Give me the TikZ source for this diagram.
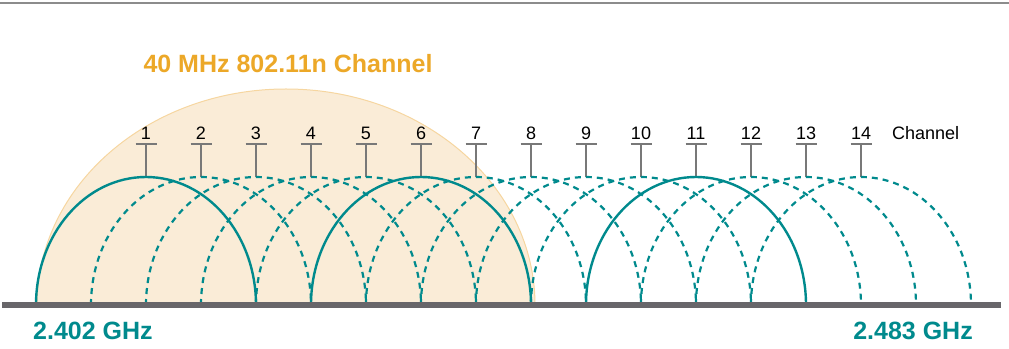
\documentclass[tikz,border=0pt]{standalone}
\usepackage{fontspec}
\setmainfont{Liberation Sans}
\definecolor{teal2}{RGB}{0,138,141}
\definecolor{orfill}{RGB}{250,236,215}
\definecolor{oredge}{RGB}{246,214,160}
\definecolor{ortext}{RGB}{236,168,40}
\definecolor{gbar}{RGB}{104,102,106}
\definecolor{gtick}{RGB}{120,120,120}
\tikzset{
  solidarc/.style={draw=teal2, line width=2.4pt},
  dasharc/.style={draw=teal2, line width=2.2pt, dash pattern=on 6pt off 5pt},
  tickline/.style={draw=gtick, line width=1.1pt},
  chlabel/.style={font=\fontsize{18}{18}\selectfont, text=black, inner sep=0pt, anchor=base},
  freqlabel/.style={font=\fontsize{25}{25}\selectfont\bfseries, text=teal2, inner sep=0pt},
}
\begin{document}
\begin{tikzpicture}[x=1pt,y=1pt]
\useasboundingbox (0,0) rectangle (1009,348);
% top rule
\draw[draw=gray!90, line width=1.2pt] (0,345) -- (1009,345);
% 40 MHz region
\fill[orfill] (37,43) arc[start angle=180, end angle=0, x radius=249, y radius=216] -- cycle;
\draw[oredge, line width=1pt] (37,43) arc[start angle=180, end angle=0, x radius=249, y radius=216];
\node[font=\fontsize{25}{25}\selectfont\bfseries, text=ortext, inner sep=0pt, anchor=base] (title) at (288,275) {40 MHz 802.11n Channel};
% channels
\foreach \n in {1,...,14}{
  \pgfmathsetmacro{\cx}{146+55*(\n-1)}
  \coordinate (top\n) at (\cx,171);
  \coordinate (cap\n) at (\cx,204);
  \node[chlabel] (lab\n) at (\cx,208) {\n};
  \draw[tickline] (top\n) -- (cap\n);
  \draw[tickline] ([xshift=-10.5pt]cap\n) -- ([xshift=10.5pt]cap\n);
}
\foreach \n in {2,3,4,5,7,8,9,10,12,13,14}{
  \pgfmathsetmacro{\cx}{146+55*(\n-1)}
  \draw[dasharc] (\cx-110,43) arc[start angle=180, end angle=0, x radius=110, y radius=128];
}
\foreach \n in {1,6,11}{
  \pgfmathsetmacro{\cx}{146+55*(\n-1)}
  \draw[solidarc] (\cx-110,43) arc[start angle=180, end angle=0, x radius=110, y radius=128];
}
\node[chlabel, anchor=base west] (chan) at (892,208) {Channel};
% baseline
\coordinate (bl) at (2,43);
\coordinate (br) at (1001,43);
\draw[gbar, line width=5.5pt] (bl) -- (br);
\node[freqlabel, anchor=base west] (f1) at (33,9) {2.402 GHz};
\node[freqlabel, anchor=base east] (f2) at (973,9) {2.483 GHz};
\end{tikzpicture}
\end{document}
